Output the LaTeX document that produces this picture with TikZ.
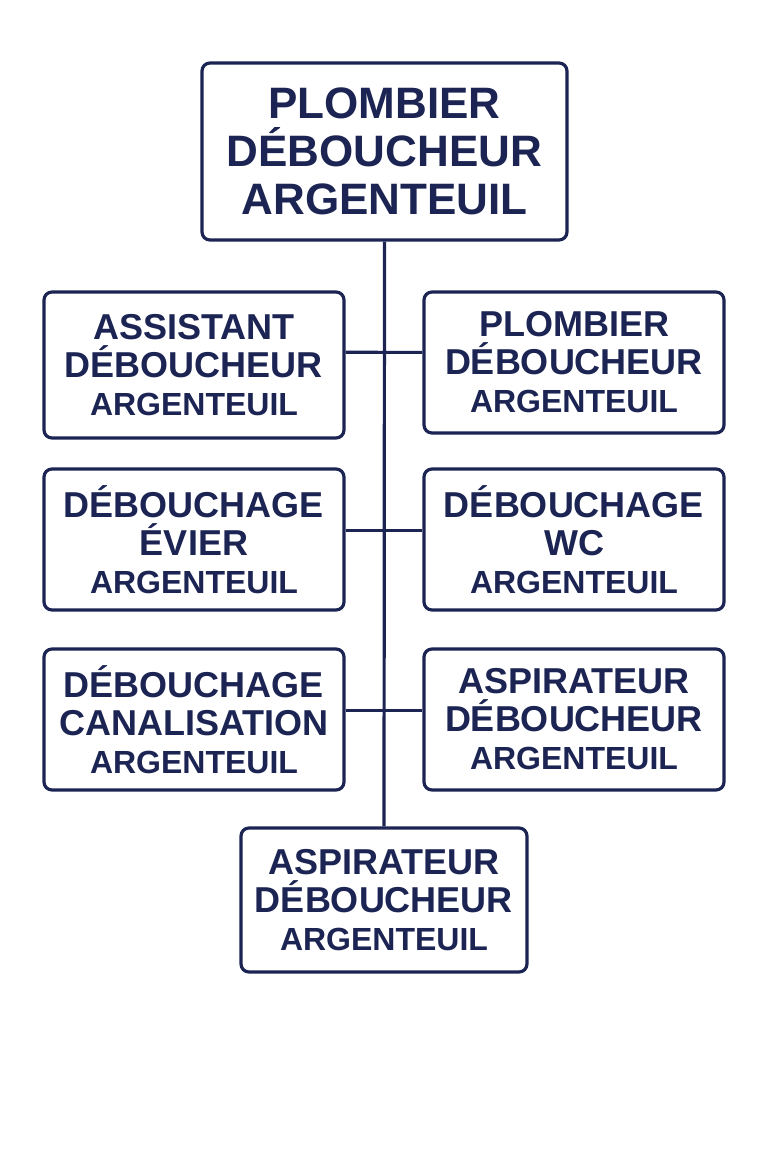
\documentclass[tikz,border=0pt]{standalone}
\usepackage{fontspec}
\setmainfont{Liberation Sans}
\definecolor{navy}{HTML}{1B2452}
\begin{document}
\begin{tikzpicture}[x=0.75pt,y=-0.75pt,
  bx/.style 2 args={draw=navy,line width=2.4pt,rounded corners=6pt,text=navy,align=center,inner sep=0pt,
    minimum width=#1*0.75pt,minimum height=#2*0.75pt,font=\bfseries\fontsize{27}{28.5}\selectfont},
  ln/.style={draw=navy,line width=2.4pt}]
\useasboundingbox (0,0) rectangle (768,1152);
\newcommand{\sm}[1]{{\fontsize{24}{28.5}\selectfont #1}}
\node[bx={365}{177},font=\bfseries\fontsize{33}{36}\selectfont] (top) at (384.5,151.5) {PLOMBIER\\DÉBOUCHEUR\\ARGENTEUIL};
\node[bx={300}{146}] (l1) at (194,365) {ASSISTANT\\DÉBOUCHEUR\\\sm{ARGENTEUIL}};
\node[bx={300}{141}] (r1) at (574,362.5) {PLOMBIER\\DÉBOUCHEUR\\\sm{ARGENTEUIL}};
\node[bx={300}{141}] (l2) at (194,539.5) {DÉBOUCHAGE\\ÉVIER\\\sm{ARGENTEUIL}};
\node[bx={300}{141}] (r2) at (574,539.5) {DÉBOUCHAGE\\WC\\\sm{ARGENTEUIL}};
\node[bx={300}{141}] (l3) at (194,719.5) {DÉBOUCHAGE\\CANALISATION\\\sm{ARGENTEUIL}};
\node[bx={300}{141}] (r3) at (574,719.5) {ASPIRATEUR\\DÉBOUCHEUR\\\sm{ARGENTEUIL}};
\node[bx={286}{144}] (bot) at (384,900) {ASPIRATEUR\\DÉBOUCHEUR\\\sm{ARGENTEUIL}};
\draw[ln] (top.south) -- (bot.north);
\draw[ln] ([yshift=9.5pt]l1.east) -- ([yshift=7.6pt]r1.west);
\draw[ln] ([yshift=7pt]l2.east) -- ([yshift=7pt]r2.west);
\draw[ln] ([yshift=7pt]l3.east) -- ([yshift=7pt]r3.west);
\end{tikzpicture}
\end{document}
